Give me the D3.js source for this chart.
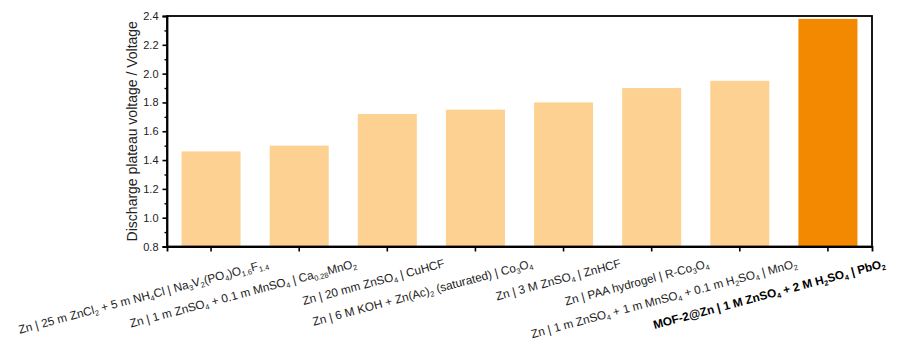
<!DOCTYPE html>
<html>
<head>
<meta charset="utf-8">
<script src="https://cdn.jsdelivr.net/npm/d3@7"></script>
<style>
  html, body { margin: 0; padding: 0; background: #fff; }
  svg { display: block; font-family: "Liberation Sans", Arial, sans-serif; }
</style>
</head>
<body>
<svg id="chart" width="901" height="345"></svg>
<script>
// Cell configurations; "_{...}" marks a subscript run.
const categories = [
  "Zn | 25 m ZnCl_{2} + 5 m NH_{4}Cl | Na_{3}V_{2}(PO_{4})O_{1.6}F_{1.4}",
  "Zn | 1 m ZnSO_{4} + 0.1 m MnSO_{4} | Ca_{0.28}MnO_{2}",
  "Zn | 20 mm ZnSO_{4} | CuHCF",
  "Zn | 6 M KOH + Zn(Ac)_{2} (saturated) | Co_{3}O_{4}",
  "Zn | 3 M ZnSO_{4} | ZnHCF",
  "Zn | PAA hydrogel | R-Co_{3}O_{4}",
  "Zn | 1 m ZnSO_{4} + 1 m MnSO_{4} + 0.1 m H_{2}SO_{4} | MnO_{2}",
  "MOF-2@Zn | 1 M ZnSO_{4} + 2 M H_{2}SO_{4} | PbO_{2}"
];
// Discharge plateau voltage (V)
const voltages = [1.46, 1.50, 1.72, 1.75, 1.80, 1.90, 1.95, 2.38];
// Which cell is the highlighted one (this work)
const highlighted = [false, false, false, false, false, false, false, true];
const yTicks = [0.8, 1.0, 1.2, 1.4, 1.6, 1.8, 2.0, 2.2, 2.4];
const yMinorTicks = [0.9, 1.1, 1.3, 1.5, 1.7, 1.9, 2.1, 2.3];
const yTitle = "Discharge plateau voltage / Voltage";

const margin = { left: 167, right: 29, top: 16, bottom: 98.5 };
const W = 901, H = 345;
const svg = d3.select("#chart");

const x = d3.scaleBand()
  .domain(d3.range(categories.length))
  .range([margin.left, W - margin.right])
  .paddingInner(0.33)
  .paddingOuter(0.165);

const y = d3.scaleLinear()
  .domain([0.8, 2.4])
  .range([H - margin.bottom, margin.top]);

const light = "#fdd192", strong = "#f28900";

// bars
svg.append("g").selectAll("rect")
  .data(voltages)
  .join("rect")
  .attr("x", (d, i) => x(i))
  .attr("width", x.bandwidth())
  .attr("y", d => y(d))
  .attr("height", d => y(0.8) - y(d))
  .attr("fill", (d, i) => highlighted[i] ? strong : light);

// frame
svg.append("rect")
  .attr("x", margin.left).attr("y", margin.top)
  .attr("width", W - margin.right - margin.left)
  .attr("height", H - margin.bottom - margin.top)
  .attr("fill", "none").attr("stroke", "#000").attr("stroke-width", 1.8);

// y axis (major)
const yAxis = svg.append("g")
  .attr("transform", `translate(${margin.left},0)`)
  .call(d3.axisLeft(y).tickValues(yTicks).tickFormat(d3.format(".1f")).tickSize(4.5).tickPadding(4));
yAxis.select(".domain").attr("stroke-width", 1.8);
yAxis.selectAll(".tick line").attr("stroke-width", 1.6);
yAxis.selectAll("text").attr("font-size", 11).attr("fill", "#222");

// y axis (minor)
const yMinor = svg.append("g")
  .attr("transform", `translate(${margin.left},0)`)
  .call(d3.axisLeft(y).tickValues(yMinorTicks).tickFormat("").tickSize(2.5));
yMinor.select(".domain").remove();
yMinor.selectAll(".tick line").attr("stroke-width", 1.4);

// x axis
const xAxis = svg.append("g")
  .attr("transform", `translate(0,${H - margin.bottom})`)
  .call(d3.axisBottom(x).tickSize(5).tickFormat(""));
xAxis.select(".domain").attr("stroke-width", 1.8);
xAxis.selectAll(".tick line").attr("stroke-width", 1.6);

// rotated category labels with subscripts
function parseRuns(s) {
  const runs = [];
  const re = /_\{([^}]*)\}/g;
  let last = 0, m;
  while ((m = re.exec(s)) !== null) {
    if (m.index > last) runs.push({ t: s.slice(last, m.index), sub: false });
    runs.push({ t: m[1], sub: true });
    last = re.lastIndex;
  }
  if (last < s.length) runs.push({ t: s.slice(last), sub: false });
  return runs;
}

const labels = svg.append("g").attr("font-size", 11.8).attr("fill", "#222");
categories.forEach((c, i) => {
  const cx = x(i) + x.bandwidth() / 2;
  const t = labels.append("text")
    .attr("text-anchor", "end")
    .attr("transform", `translate(${cx + 58},${267}) rotate(-15)`)
    .attr("font-weight", highlighted[i] ? "bold" : "normal")
    .attr("fill", highlighted[i] ? "#000" : "#222");
  parseRuns(c).forEach(r => {
    if (r.sub) {
      t.append("tspan").attr("font-size", 7.5).attr("dy", 2.5).text(r.t);
      t.append("tspan").attr("dy", -2.5).text("\u200B");
    } else {
      t.append("tspan").text(r.t);
    }
  });
});

// y title
svg.append("text")
  .attr("transform", `translate(137,${(margin.top + H - margin.bottom) / 2}) rotate(-90)`)
  .attr("text-anchor", "middle")
  .attr("font-size", 14)
  .attr("fill", "#222")
  .text(yTitle);
</script>
</body>
</html>
